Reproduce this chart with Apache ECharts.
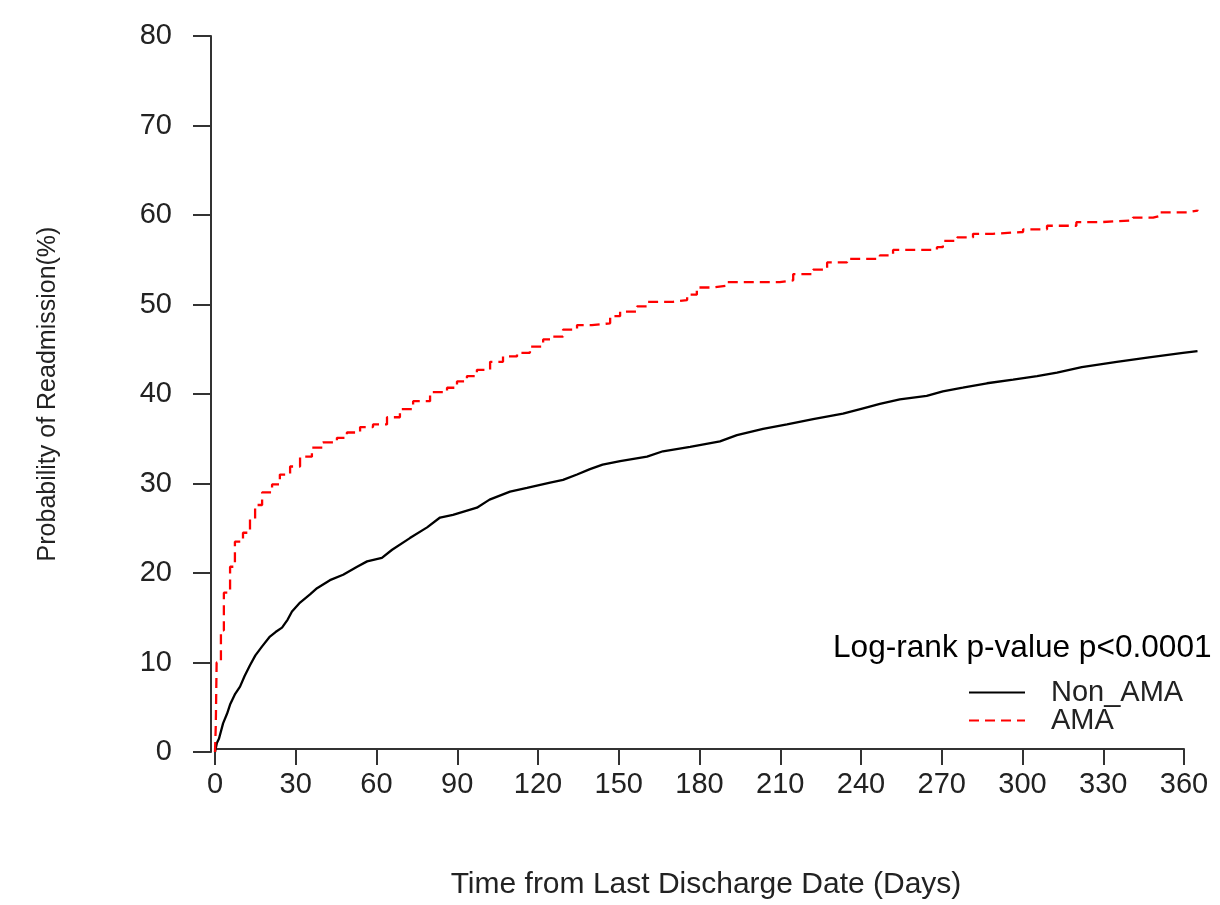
<!DOCTYPE html>
<html>
<head>
<meta charset="utf-8">
<script src="https://cdn.jsdelivr.net/npm/echarts@6/dist/echarts.min.js"></script>
<style>
  html, body { margin: 0; padding: 0; background: #fff; }
  #chart { width: 1220px; height: 905px; }
</style>
</head>
<body>
<div id="chart"></div>
<script>
// ---- Data ----
const xTicks = [0, 30, 60, 90, 120, 150, 180, 210, 240, 270, 300, 330, 360];
const yTicks = [0, 10, 20, 30, 40, 50, 60, 70, 80];

const nonAmaDays = [0, 0.7, 1.5, 3, 4.5, 5.6, 7.5, 9.3, 11, 13, 15, 17.5, 20.4, 22.5, 24.9, 27, 28.6, 31.6, 35.3, 37.9, 42.7, 47.6, 52.8, 56.5, 62, 65.8, 72.4, 78.8, 83.6, 88.4, 97.3, 102, 109.6, 115.9, 124.5, 129.3, 134.5, 139.3, 144, 150.5, 160.5, 166.4, 176.5, 187.6, 193.9, 203.6, 212.5, 222.2, 233.3, 240.8, 247, 254.4, 264.4, 270.4, 277.8, 286.8, 296.5, 305.4, 312.8, 322, 335, 347, 359.6, 365];
const nonAmaPct = [0, 1.0, 1.5, 3.2, 4.3, 5.3, 6.5, 7.3, 8.5, 9.7, 10.8, 11.8, 12.9, 13.4, 13.9, 14.8, 15.7, 16.7, 17.6, 18.3, 19.2, 19.8, 20.7, 21.3, 21.7, 22.6, 23.9, 25.1, 26.2, 26.5, 27.3, 28.2, 29.1, 29.5, 30.1, 30.4, 31.0, 31.6, 32.1, 32.5, 33.0, 33.6, 34.1, 34.7, 35.4, 36.1, 36.6, 37.2, 37.8, 38.4, 38.9, 39.4, 39.8, 40.3, 40.7, 41.2, 41.6, 42.0, 42.4, 43.0, 43.6, 44.1, 44.6, 44.8];

const amaDays = [0, 0.3, 0.6, 2.2, 3.3, 5.6, 7.4, 10.4, 13, 14.9, 17.5, 21.2, 24.1, 27.9, 31.6, 36, 40.1, 45.3, 49, 53.9, 58.7, 63.9, 68.7, 73.6, 79.9, 86.2, 89.9, 93.6, 97.3, 102.2, 107, 112.2, 117, 121.9, 125.6, 129.3, 134.5, 140, 146.8, 150.5, 156.8, 160.5, 170.2, 175.4, 179, 185, 190.2, 209.8, 214.8, 222.2, 227.4, 234.8, 247, 251.9, 268.2, 270.4, 275.7, 281.6, 289, 300.2, 309.1, 320, 328.8, 341, 348.5, 351, 361, 365];
const amaPct = [0, 3, 10, 13.6, 17.8, 20.7, 23.5, 24.5, 26, 27.6, 29, 29.9, 31, 31.9, 33, 34, 34.6, 35.1, 35.7, 36.3, 36.6, 37.4, 38.3, 39.2, 40.2, 40.7, 41.4, 42.0, 42.7, 43.6, 44.2, 44.6, 45.3, 46.1, 46.4, 47.2, 47.7, 47.9, 48.7, 49.2, 49.8, 50.3, 50.5, 51.1, 51.9, 52.1, 52.5, 52.7, 53.4, 53.9, 54.7, 55.1, 55.5, 56.1, 56.4, 57.1, 57.5, 57.9, 58.1, 58.4, 58.8, 59.2, 59.4, 59.7, 59.9, 60.3, 60.5, 60.6];

const seriesNames = ['Non_AMA', 'AMA'];
const annotation = 'Log-rank p-value p<0.0001';
const xTitle = 'Time from Last Discharge Date (Days)';
const yTitle = 'Probability of Readmission(%)';

// ---- Chart ----
const pairs = (xs, ys) => xs.map((x, i) => [x, ys[i]]);
const FONT = '"Liberation Sans", Arial, sans-serif';
const axisColor = '#333';
const labelColor = '#222';

const chart = echarts.init(document.getElementById('chart'), null, { renderer: 'canvas' });

chart.setOption({
  backgroundColor: '#ffffff',
  animation: false,
  textStyle: { fontFamily: FONT },
  title: {
    text: annotation,
    left: 833,
    top: 632,
    padding: 0,
    textStyle: { fontSize: 31.6, fontWeight: 'normal', color: '#000', fontFamily: FONT }
  },
  legend: {
    data: seriesNames,
    orient: 'vertical',
    left: 968,
    top: 678,
    padding: 0,
    itemWidth: 56,
    itemHeight: 14,
    itemGap: -1,
    itemStyle: { opacity: 0 },
    textStyle: { fontSize: 29, color: labelColor, fontFamily: FONT, lineHeight: 22, padding: [0, 0, 0, 21] }
  },
  grid: [
    { left: 215, top: 36, width: 982.5, height: 716 },   // data grid (0..365 days)
    { left: 215, top: 36, width: 969, height: 718 },     // x axis display (0..360)
    { left: 211, top: 36, width: 969, height: 716 }      // y axis display
  ],
  xAxis: [
    { gridIndex: 0, type: 'value', min: 0, max: 365, show: false },
    {
      gridIndex: 1, type: 'value', min: 0, max: 360, interval: 30,
      name: xTitle, nameLocation: 'middle', nameGap: 121,
      nameTextStyle: { fontSize: 30, color: labelColor, fontFamily: FONT, padding: [0, 0, 0, 13] },
      axisLine: { show: true, lineStyle: { color: axisColor, width: 2 } },
      axisTick: { show: true, length: 16, lineStyle: { color: axisColor, width: 2 } },
      axisLabel: { fontSize: 29, color: labelColor, margin: 21, fontFamily: FONT,
        formatter: v => xTicks.includes(v) ? String(v) : '' },
      splitLine: { show: false }
    },
    { gridIndex: 2, type: 'value', min: 0, max: 360, show: false }
  ],
  yAxis: [
    { gridIndex: 0, type: 'value', min: 0, max: 80, show: false },
    { gridIndex: 1, type: 'value', min: 0, max: 80, show: false },
    {
      gridIndex: 2, type: 'value', min: 0, max: 80, interval: 10,
      name: yTitle, nameLocation: 'middle', nameGap: 150, nameRotate: 90,
      nameTextStyle: { fontSize: 25, color: labelColor, fontFamily: FONT },
      axisLine: { show: true, lineStyle: { color: axisColor, width: 2 } },
      axisTick: { show: true, length: 18, lineStyle: { color: axisColor, width: 2 } },
      axisLabel: { fontSize: 29, color: labelColor, margin: 39, fontFamily: FONT,
        formatter: v => yTicks.includes(v) ? String(v) : '' },
      splitLine: { show: false }
    }
  ],
  series: [
    {
      name: seriesNames[0], type: 'line', xAxisIndex: 0, yAxisIndex: 0,
      symbol: 'none', showSymbol: false,
      lineStyle: { color: '#000', width: 2.3, type: 'solid' },
      itemStyle: { color: '#000' },
      data: pairs(nonAmaDays, nonAmaPct)
    },
    {
      name: seriesNames[1], type: 'line', xAxisIndex: 0, yAxisIndex: 0,
      step: 'end', symbol: 'none', showSymbol: false,
      lineStyle: { color: '#ff0000', width: 2.3, type: [10, 6] },
      itemStyle: { color: '#ff0000' },
      data: pairs(amaDays, amaPct)
    }
  ]
});
</script>
</body>
</html>
